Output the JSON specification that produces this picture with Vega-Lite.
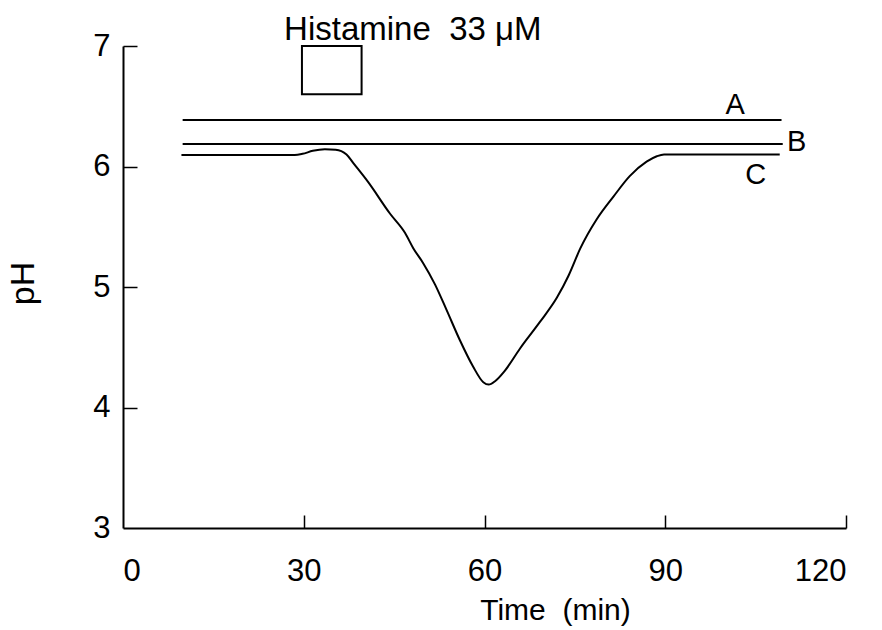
{
  "$schema": "https://vega.github.io/schema/vega-lite/v6.json",
  "width": 723,
  "height": 482,
  "autosize": "none",
  "padding": {"left": 123, "top": 46, "right": 36, "bottom": 102},
  "background": "white",
  "config": {"view": {"stroke": null}},
  "resolve": {"axis": {"x": "independent", "y": "independent"}},
  "datasets": {
    "curves": [
      {"series": "A", "t": 9.9, "pH": 6.385},
      {"series": "A", "t": 109.3, "pH": 6.385},
      {"series": "B", "t": 9.9, "pH": 6.187},
      {"series": "B", "t": 109.5, "pH": 6.187},
      {"series": "C", "t": 9.7, "pH": 6.095},
      {"series": "C", "t": 28.5, "pH": 6.095},
      {"series": "C", "t": 29.8, "pH": 6.105},
      {"series": "C", "t": 31.5, "pH": 6.13},
      {"series": "C", "t": 33.5, "pH": 6.143},
      {"series": "C", "t": 35.3, "pH": 6.14},
      {"series": "C", "t": 37.1, "pH": 6.1},
      {"series": "C", "t": 38.2, "pH": 6.03},
      {"series": "C", "t": 40.7, "pH": 5.87},
      {"series": "C", "t": 44.3, "pH": 5.61},
      {"series": "C", "t": 46.8, "pH": 5.45},
      {"series": "C", "t": 48.2, "pH": 5.32},
      {"series": "C", "t": 49.8, "pH": 5.2},
      {"series": "C", "t": 51.8, "pH": 5.02},
      {"series": "C", "t": 53.7, "pH": 4.81},
      {"series": "C", "t": 55.9, "pH": 4.56},
      {"series": "C", "t": 58.1, "pH": 4.34},
      {"series": "C", "t": 59.8, "pH": 4.21},
      {"series": "C", "t": 60.7, "pH": 4.19},
      {"series": "C", "t": 61.8, "pH": 4.22},
      {"series": "C", "t": 63.3, "pH": 4.3},
      {"series": "C", "t": 65.9, "pH": 4.49},
      {"series": "C", "t": 69.2, "pH": 4.71},
      {"series": "C", "t": 72.0, "pH": 4.91},
      {"series": "C", "t": 74.0, "pH": 5.1},
      {"series": "C", "t": 75.9, "pH": 5.32},
      {"series": "C", "t": 78.6, "pH": 5.56},
      {"series": "C", "t": 81.4, "pH": 5.75},
      {"series": "C", "t": 84.1, "pH": 5.92},
      {"series": "C", "t": 86.9, "pH": 6.04},
      {"series": "C", "t": 88.6, "pH": 6.085},
      {"series": "C", "t": 89.8, "pH": 6.1},
      {"series": "C", "t": 109.0, "pH": 6.1}
    ],
    "box": [{"t1": 29.7, "t2": 39.6, "p1": 6.6, "p2": 7.0}],
    "labels": [
      {"t": 101.6, "pH": 6.51, "label": "A"},
      {"t": 111.8, "pH": 6.2, "label": "B"},
      {"t": 105.0, "pH": 5.93, "label": "C"}
    ],
    "title": [{"t": 48.1, "pH": 7.05, "label": "Histamine\u00a0\u00a033\u00a0μM"}]
  },
  "layer": [
    {
      "data": {"name": "curves"},
      "mark": {"type": "line", "color": "black", "strokeWidth": 2, "interpolate": "monotone", "clip": false},
      "encoding": {
        "x": {
          "field": "t", "type": "quantitative",
          "scale": {"domain": [0, 120], "nice": false, "zero": false},
          "axis": {
            "orient": "bottom",
            "values": [0, 30, 60, 90, 120],
            "grid": false, "ticks": false, "tickSize": 0,
            "domainColor": "black", "domainWidth": 2,
            "labelPadding": 43,
            "labelFont": "Liberation Sans",
            "labelFontSize": 31, "labelColor": "black", "labelBaseline": "middle",
            "title": "Time\u00a0\u00a0(min)",
            "titleFont": "Liberation Sans", "titleFontSize": 30, "titleFontWeight": "normal",
            "titleColor": "black", "titleX": 432, "titleY": 82, "titleBaseline": "middle", "titleAnchor": "start", "titleAlign": "center"
          }
        },
        "y": {
          "field": "pH", "type": "quantitative",
          "scale": {"domain": [3, 7], "nice": false, "zero": false},
          "axis": {
            "orient": "left",
            "values": [3, 4, 5, 6, 7],
            "format": "d",
            "grid": false, "ticks": false, "tickSize": 0,
            "domainColor": "black", "domainWidth": 2,
            "labelPadding": 13,
            "labelFont": "Liberation Sans",
            "labelFontSize": 31, "labelColor": "black",
            "title": "pH",
            "titleFont": "Liberation Sans", "titleFontSize": 34, "titleFontWeight": "normal",
            "titleColor": "black", "titleAngle": -90, "titleX": -90, "titleY": 237,
            "titleBaseline": "alphabetic", "titleAlign": "center", "titleAnchor": "start"
          }
        },
        "detail": {"field": "series", "type": "nominal"}
      }
    },
    {
      "data": {"name": "box"},
      "mark": {"type": "rect", "filled": false, "stroke": "black", "strokeWidth": 2},
      "encoding": {
        "x": {
          "field": "t1", "type": "quantitative",
          "axis": {
            "orient": "top", "offset": -482,
            "values": [30, 60, 90, 120],
            "domain": false, "labels": false, "grid": false, "title": null,
            "ticks": true, "tickSize": 13, "tickWidth": 1.5, "tickColor": "black"
          }
        },
        "x2": {"field": "t2"},
        "y": {
          "field": "p1", "type": "quantitative",
          "axis": {
            "orient": "right", "offset": -723,
            "values": [4, 5, 6, 7],
            "domain": false, "labels": false, "grid": false, "title": null,
            "ticks": true, "tickSize": 14, "tickWidth": 1.5, "tickColor": "black"
          }
        },
        "y2": {"field": "p2"}
      }
    },
    {
      "data": {"name": "labels"},
      "mark": {"type": "text", "font": "Liberation Sans", "fontSize": 29, "color": "black", "align": "center", "baseline": "middle"},
      "encoding": {
        "x": {"field": "t", "type": "quantitative", "axis": null},
        "y": {"field": "pH", "type": "quantitative", "axis": null},
        "text": {"field": "label"}
      }
    },
    {
      "data": {"name": "title"},
      "mark": {"type": "text", "font": "Liberation Sans", "fontSize": 33, "color": "black", "align": "center", "baseline": "alphabetic"},
      "encoding": {
        "x": {"field": "t", "type": "quantitative", "axis": null},
        "y": {"field": "pH", "type": "quantitative", "axis": null},
        "text": {"field": "label"}
      }
    }
  ]
}
